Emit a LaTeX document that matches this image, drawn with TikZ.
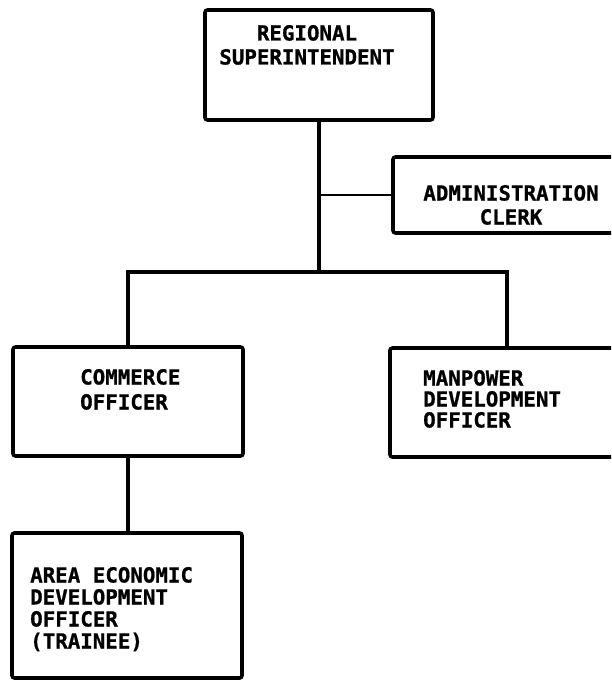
\documentclass[tikz,border=0pt]{standalone}
\usepackage{fontspec}
\newfontfamily\chartfont[BoldFeatures={FakeBold=0.8}]{DejaVu Sans Mono}
\begin{document}
\begin{tikzpicture}[x=1pt, y=-1pt,
  box/.style={draw=black, line width=3.6pt, rounded corners=2.5pt, inner sep=0pt, fill=white},
  link/.style={draw=black, line width=3.2pt},
  thinlink/.style={draw=black, line width=2.2pt},
  lbl/.style={inner sep=0pt, font=\chartfont\bfseries\fontsize{20.8pt}{24pt}\selectfont}]
  \useasboundingbox[fill=white] (0,0) rectangle (611,682);
  \clip (0,0) rectangle (611,682);

  % boxes
  \node[box, minimum width=228pt, minimum height=110pt] (rs) at (319,65) {};
  \node[box, minimum width=234pt, minimum height=76pt] (ac) at (510,195) {};
  \node[box, minimum width=230pt, minimum height=109pt] (co) at (128,401.5) {};
  \node[box, minimum width=234pt, minimum height=109pt] (mp) at (507,402.5) {};
  \node[box, minimum width=230pt, minimum height=145pt] (ae) at (127,605.5) {};

  % box captions (anchored on the baseline of their last line)
  \node[lbl, align=center, anchor=base] (rs-t) at (307,64.5) {REGIONAL\\SUPERINTENDENT};
  \node[lbl, align=center, anchor=base] (ac-t) at (511,224.5) {ADMINISTRATION\\CLERK};
  \node[lbl, align=left, anchor=base west, font=\chartfont\bfseries\fontsize{20.8pt}{25pt}\selectfont] (co-t) at (80,409.5) {COMMERCE\\OFFICER};
  \node[lbl, align=left, anchor=base west, font=\chartfont\bfseries\fontsize{20.8pt}{21pt}\selectfont] (mp-t) at (423,427.5) {MANPOWER\\DEVELOPMENT\\OFFICER};
  \node[lbl, align=left, anchor=base west, font=\chartfont\bfseries\fontsize{20.8pt}{22pt}\selectfont] (ae-t) at (30,648.5) {AREA ECONOMIC\\DEVELOPMENT\\OFFICER\\(TRAINEE)};

  % connectors
  \coordinate (j) at (319,272);
  \coordinate (t) at (rs.south |- ac.west);
  \draw[link] (rs.south) -- (j);
  \draw[thinlink] (t) -- (ac.west);
  \draw[link] (co.north) |- (j) -| (mp.north);
  \draw[link] (co.south) -- (co.south |- ae.north);
\end{tikzpicture}
\end{document}
